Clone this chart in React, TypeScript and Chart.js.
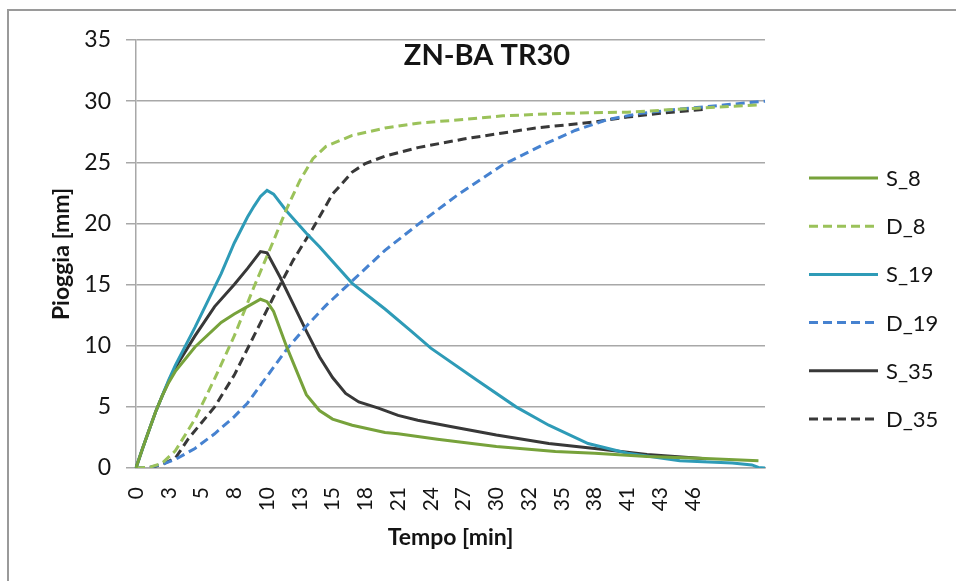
import React, { useEffect, useRef } from 'react';
import { Chart, registerables } from 'chart.js';

Chart.register(...registerables);

// Category axis: rainfall samples; a time label is shown every LABEL_EVERY samples
const TICK_LABELS = ['0', '3', '5', '8', '10', '13', '15', '18', '21', '24', '27', '30', '32', '35', '38', '41', '43', '46'];
const SAMPLE_COUNT = 97;
const LABEL_EVERY = 5;

const Y_MIN = 0;
const Y_MAX = 35;
const Y_STEP = 5;

const TITLE = 'ZN-BA TR30';
const X_TITLE = 'Tempo [min]';
const Y_TITLE = 'Pioggia [mm]';

const SERIES_NAMES = ['S_8', 'D_8', 'S_19', 'D_19', 'S_35', 'D_35'];

// [sample index, rainfall mm]
const S_8: [number, number][] = [
  [0, 0], [1, 1.6], [2, 3.1], [3, 4.6], [4, 5.9], [5, 7.0], [6, 7.9], [9, 9.9], [13, 11.9], [15, 12.6], [17, 13.2],
  [19, 13.8], [20, 13.6], [21, 12.8], [23, 9.9], [26, 6.0], [28, 4.7], [30, 4.0], [33, 3.5], [38, 2.9], [40, 2.8],
  [46, 2.35], [55, 1.75], [64, 1.35], [70, 1.2], [78, 0.95], [86, 0.8], [95, 0.6],
];
const D_8: [number, number][] = [
  [0, 0], [2, 0.05], [4, 0.4], [6, 1.4], [9, 4.0], [12, 7.3], [15, 10.8], [18, 14.8], [21, 18.6], [23, 21.2],
  [25, 23.5], [27, 25.3], [29, 26.3], [33, 27.2], [38, 27.8], [43, 28.2], [50, 28.5], [56, 28.8],
  [65, 29.0], [75, 29.1], [85, 29.4], [95, 29.7],
];
const S_19: [number, number][] = [
  [0, 0], [1, 1.6], [2, 3.1], [3, 4.6], [4, 5.9], [5, 7.2], [6, 8.4], [9, 11.5], [13, 15.9], [15, 18.4], [17, 20.5],
  [18, 21.4], [19, 22.2], [20, 22.7], [21, 22.4], [23, 21.0], [26, 19.2], [28, 18.1], [33, 15.1], [38, 13.0],
  [42, 11.2], [45, 9.8], [52, 7.2], [58, 5.0], [63, 3.5], [69, 2.0], [75, 1.2], [83, 0.6], [91, 0.4], [94, 0.25],
  [95, 0.05], [96, 0],
];
const D_19: [number, number][] = [
  [0, 0], [2, 0.05], [4, 0.3], [6, 0.7], [9, 1.6], [12, 2.8], [15, 4.2], [17, 5.3], [20, 7.5], [23, 9.7],
  [26, 11.6], [29, 13.3], [33, 15.3], [38, 17.8], [43, 19.9], [49, 22.3], [56, 24.8], [62, 26.4], [67, 27.6],
  [72, 28.5], [77, 29.0], [83, 29.35], [90, 29.7], [96, 30.0],
];
const S_35: [number, number][] = [
  [0, 0], [1, 1.6], [2, 3.1], [3, 4.6], [4, 5.9], [5, 7.1], [6, 8.2], [9, 10.8], [12, 13.2], [15, 15.0], [17, 16.3],
  [19, 17.7], [20, 17.6], [22, 15.6], [24, 13.4], [26, 11.2], [28, 9.1], [30, 7.4], [32, 6.1], [34, 5.4], [37, 4.9],
  [40, 4.3], [43, 3.9], [48, 3.4], [55, 2.7], [63, 2.0], [70, 1.6], [78, 1.1], [87, 0.75],
];
const D_35: [number, number][] = [
  [0, 0], [2, 0], [4, 0.3], [6, 0.8], [8, 2.4], [12, 5.0], [15, 7.6], [18, 10.8], [21, 14.0], [24, 17.0],
  [27, 19.6], [30, 22.4], [33, 24.2], [35, 24.9], [38, 25.5], [43, 26.2], [50, 26.9], [56, 27.4], [61, 27.8],
  [70, 28.3], [75, 28.7], [80, 29.0], [87, 29.35],
];

const SERIES_POINTS = [S_8, D_8, S_19, D_19, S_35, D_35];
const SERIES_COLORS = ['#77a23b', '#9bc25a', '#2e9bb7', '#4682d0', '#383838', '#383838'];
const SERIES_DASHED = [false, true, false, true, false, true];

const FONT = 'Lato, "Open Sans", sans-serif';
const GRID = '#a8a8a8';
const TEXT = '#141414';

function toSeries(points: [number, number][]): (number | null)[] {
  const arr: (number | null)[] = new Array(SAMPLE_COUNT).fill(null);
  points.forEach(([i, v]) => { arr[i] = v; });
  return arr;
}

const titlePlugin = {
  id: 'insideTitle',
  afterDraw(chart: any) {
    const ctx = chart.ctx;
    ctx.save();
    ctx.font = `bold 29px ${FONT}`;
    ctx.fillStyle = TEXT;
    ctx.textAlign = 'center';
    ctx.textBaseline = 'middle';
    ctx.fillText(TITLE, 487, 56);
    ctx.restore();
  },
};

const sideLegendPlugin = {
  id: 'sideLegend',
  afterDraw(chart: any) {
    const ctx = chart.ctx;
    ctx.save();
    chart.data.datasets.forEach((ds: any, i: number) => {
      const y = 178 + i * 48.2;
      ctx.beginPath();
      ctx.setLineDash(ds.borderDash || []);
      ctx.lineWidth = ds.borderWidth;
      ctx.strokeStyle = ds.borderColor;
      ctx.lineCap = 'butt';
      ctx.moveTo(809, y);
      ctx.lineTo(878, y);
      ctx.stroke();
      ctx.setLineDash([]);
      ctx.font = `22px ${FONT}`;
      ctx.fillStyle = TEXT;
      ctx.textAlign = 'left';
      ctx.textBaseline = 'middle';
      ctx.fillText(ds.label, 886, y + 1);
    });
    ctx.restore();
  },
};

export default function App() {
  const ref = useRef<HTMLCanvasElement>(null);

  useEffect(() => {
    const labels = Array.from({ length: SAMPLE_COUNT }, (_, i) =>
      i % LABEL_EVERY === 0 && i / LABEL_EVERY < TICK_LABELS.length ? TICK_LABELS[i / LABEL_EVERY] : ''
    );
    const datasets = SERIES_NAMES.map((name, k) => ({
      label: name,
      data: toSeries(SERIES_POINTS[k]),
      borderColor: SERIES_COLORS[k],
      backgroundColor: SERIES_COLORS[k],
      borderWidth: 3,
      borderDash: SERIES_DASHED[k] ? [9, 5] : [],
      pointRadius: 0,
      pointHoverRadius: 0,
      tension: 0,
      spanGaps: true,
      fill: false,
    }));

    const chart = new Chart(ref.current as HTMLCanvasElement, {
      type: 'line',
      data: { labels, datasets },
      options: {
        responsive: false,
        animation: false,
        devicePixelRatio: 1,
        layout: { padding: { top: 40, right: 191, left: 0, bottom: 0 } },
        plugins: {
          legend: { display: false },
          tooltip: { enabled: false },
          title: { display: false },
        },
        scales: {
          x: {
            type: 'category',
            offset: false,
            grid: { display: false, drawTicks: false },
            border: { display: true, color: GRID, width: 1.5 },
            ticks: {
              autoSkip: false,
              maxRotation: 90,
              minRotation: 90,
              padding: 19,
              color: TEXT,
              font: { family: FONT, size: 21 },
            },
            title: {
              display: true,
              text: X_TITLE,
              color: TEXT,
              font: { family: FONT, size: 23, weight: 'bold' },
              padding: { top: 0, bottom: 30 },
            },
            afterFit: (s: any) => { s.height = 581 - 468; },
          },
          y: {
            min: Y_MIN,
            max: Y_MAX,
            ticks: {
              stepSize: Y_STEP,
              padding: 15,
              color: TEXT,
              font: { family: FONT, size: 23 },
            },
            grid: { color: GRID, lineWidth: 1.5, tickLength: 10 },
            border: { display: true, color: GRID, width: 1.5 },
            title: {
              display: true,
              text: Y_TITLE,
              color: TEXT,
              font: { family: FONT, size: 23, weight: 'bold' },
              padding: { top: 48, bottom: 0 },
            },
            afterFit: (s: any) => { s.width = 136; },
          },
        },
      },
      plugins: [titlePlugin, sideLegendPlugin],
    } as any);

    return () => chart.destroy();
  }, []);

  return (
    <div style={{ position: 'fixed', left: 0, top: 0, width: 956, height: 581, overflow: 'hidden', background: '#fff' }}>
      <div
        style={{
          position: 'absolute', left: 7, top: 9, width: 1200, height: 900,
          border: '2px solid #9a9a9a', boxSizing: 'border-box',
        }}
      />
      <canvas ref={ref} width={956} height={581} style={{ position: 'absolute', left: 0, top: 0 }} />
    </div>
  );
}
